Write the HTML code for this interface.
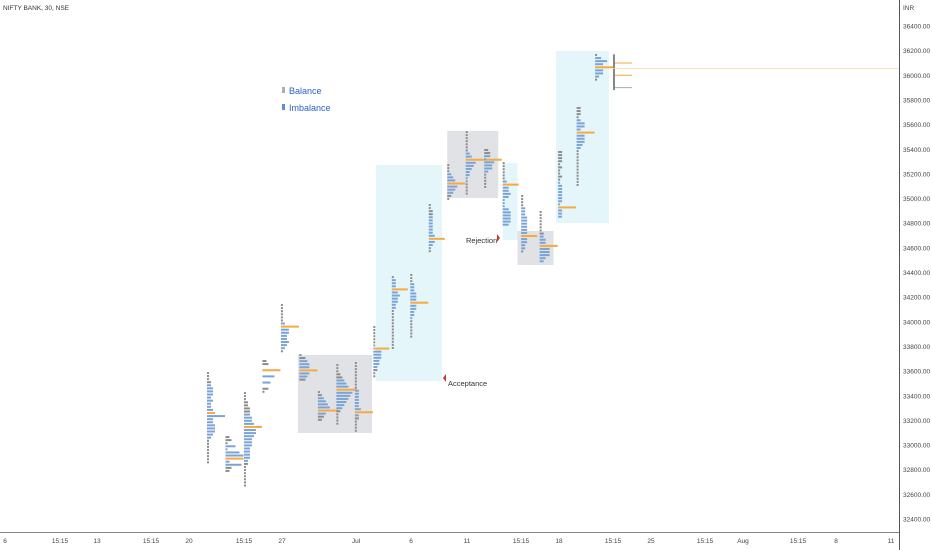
<!DOCTYPE html>
<html><head><meta charset="utf-8">
<style>
html,body{margin:0;padding:0;background:#fff;}
svg{display:block;font-family:"Liberation Sans",sans-serif;}
</style></head>
<body>
<svg id="chart" width="932" height="550" viewBox="0 0 932 550">
<text x="3" y="10" font-size="6.5" fill="#333">NIFTY BANK, 30, NSE</text>
<g id="boxes"></g>
<g id="profiles"></g>
<g id="axes"></g>
<g>
  <rect x="282" y="87" width="3" height="6" fill="#aab0bb"/>
  <text x="289" y="94" font-size="9" fill="#2962c8">Balance</text>
  <rect x="282" y="104" width="3" height="6" fill="#5b8fd6"/>
  <text x="289" y="111" font-size="9" fill="#2962c8">Imbalance</text>
</g>
<g>
  <text x="466" y="243" font-size="7.5" fill="#333">Rejection</text>
  <polygon points="497,234 497,242 500,238" fill="#c0392b"/>
</g>
<g>
  <text x="448" y="386" font-size="7.5" fill="#333">Acceptance</text>
  <polygon points="446,374 446,382 443,378" fill="#c0392b"/>
</g>
</svg>
<script>
const priceTicks=[36400,36200,36000,35800,35600,35400,35200,35000,34800,34600,34400,34200,34000,33800,33600,33400,33200,33000,32800,32600,32400];
const timeLabels=["6","15:15","13","15:15","20","15:15","27","Jul","6","11","15:15","18","15:15","25","15:15","Aug","15:15","8","11"];
const timeLabelX=[5,60,97,151,189,244,282,356,411,467,521,559,613,651,705,743,798,836,891];
const profileHigh=[33585,33065,33422,33682,34136,33731,33430,33649,33666,33958,34363,34380,34948,35272,35540,35394,35288,35021,34891,35378,35735,36165];
const profileCounts=[
[1,1,1,2,2,3,3,3,2,3,2,2,3,4,9,3,3,4,4,4,3,2,1,1,1,1,1,1,1,1],
[2,3,1,5,1,7,9,9,2,8,3,2],
[1,1,1,2,2,3,3,3,4,4,5,9,6,6,5,4,4,4,3,3,3,3,2,2,1,1,1,1,1,1,1],
[2,3,0,9,0,6,0,4,0,3,1],
[1,1,1,1,1,1,2,9,4,4,3,3,4,3,2,1],
[1,3,4,5,5,9,5,4,3],
[1,2,3,4,5,6,10,4,3,2],
[1,1,1,2,3,4,5,6,10,8,7,6,5,4,3,2,1,1,1,1],
[1,1,1,1,1,1,1,1,1,2,2,2,2,2,2,3,9,2,2,1,1,1,1],
[1,1,1,1,1,1,1,8,4,4,4,3,3,2,2,1,1],
[1,2,2,2,8,3,4,3,3,2,2,1,1,1,1,1,1,1,1,1,1,1,1,1],
[1,1,1,2,2,2,3,3,3,9,3,3,2,2,1,1,1,1,1,1,1],
[1,1,2,2,2,2,2,2,2,2,3,8,3,2,1,1],
[1,1,1,2,3,4,9,5,4,3,2,1],
[1,1,1,1,1,1,1,2,3,18,5,4,3,2,2,1,1,1,1,1,1],
[2,3,3,1,5,4,4,2,1,1,1,1,1],
[1,1,1,1,1,1,2,8,3,3,4,3,1,1,1,3,4,4,4,4,3],
[1,1,1,1,2,2,2,3,3,3,3,3,3,8,3,3,2,2,1],
[1,1,1,1,1,1,1,2,2,3,3,9,5,5,5,3,2],
[2,2,2,2,1,2,1,1,2,1,1,2,2,2,2,2,2,1,9,2,2,2],
[2,2,2,1,2,4,4,2,9,4,4,4,3,2,1,1,1,1,1,1,1,1,1,1,1,1],
[1,3,6,4,9,4,4,2,1]];
const profilePoc=[13,7,11,3,7,5,6,8,16,7,4,9,11,6,9,-1,7,13,11,18,8,4];
const vaStart=[4,3,7,2,6,2,2,5,9,6,1,3,4,3,7,2,6,4,8,10,4,1];
const vaEnd=[21,9,22,8,14,7,7,14,17,13,10,14,13,9,16,7,20,17,16,21,13,7];
const boxType=["balance","imbalance","balance","imbalance","balance","imbalance"];
const boxStart=[4.92,9.15,13.0,16.0,16.8,18.88];
const boxEnd=[8.93,12.72,15.76,16.8,18.75,21.75];
const boxHigh=[33731,35272,35548,35288,34737,36197];
const boxLow=[33098,33520,35004,34664,34461,34801];
const refLevels=[36100,36000,35900];

const NS="http://www.w3.org/2000/svg";
const Y=p=>26+(36400-p)*0.12325;
const X=i=>207+18.48*i;
const STEP=25;
function mk(tag,attrs,parent){const e=document.createElementNS(NS,tag);for(const k in attrs)e.setAttribute(k,attrs[k]);parent.appendChild(e);return e;}
const gB=document.getElementById('boxes'),gP=document.getElementById('profiles'),gA=document.getElementById('axes');

boxType.forEach((t,i)=>{
  const r=mk('rect',{x:X(boxStart[i]),y:Y(boxHigh[i]),width:X(boxEnd[i])-X(boxStart[i]),height:Y(boxLow[i])-Y(boxHigh[i]),fill:t==="balance"?"#e1e2e6":"#e5f6fb"},gB);
  
  
});

profileCounts.forEach((cs,i)=>{
  const g=mk('g',{},gP);
  
  
  const x0=X(i);
  cs.forEach((c,j)=>{
    if(!c)return;
    const p=profileHigh[i]-j*STEP;
    const y=Y(p);
    let col=(j>=vaStart[i]&&j<=vaEnd[i])?"#7ba4d6":"#8c8c8c";
    if(j===profilePoc[i])col="#f5a940";
    const r=mk('rect',{x:x0,y:y-1,width:c*2,height:2,fill:col},g);
    
    
  });
});

const refG=mk('g',{},gP);


mk('rect',{x:613,y:Y(36170),width:2,height:Y(35880)-Y(36170),fill:"#888"},refG);
mk('line',{x1:613,x2:899,y1:Y(36055),y2:Y(36055),stroke:"#f8d9a8","stroke-width":0.8},refG);
refLevels.forEach((p,k)=>{mk('line',{x1:615,x2:632,y1:Y(p),y2:Y(p),stroke:k===2?"#aaa":"#f5a940","stroke-width":1},refG);});

mk('line',{x1:899.5,x2:899.5,y1:0,y2:550,stroke:"#555","stroke-width":1},gA);
mk('line',{x1:0,x2:899,y1:532.5,y2:532.5,stroke:"#888","stroke-width":1},gA);
const cur=mk('text',{x:903,y:10,"font-size":6.5,fill:"#444"},gA);cur.textContent="INR";


priceTicks.forEach(p=>{
  const t=mk('text',{x:903,y:Y(p)+2.5,"font-size":6.5,fill:"#444"},gA);t.textContent=p.toFixed(2);
  
  
});
timeLabels.forEach((l,i)=>{
  const t=mk('text',{x:timeLabelX[i],y:543,"font-size":6.5,fill:"#444","text-anchor":"middle"},gA);t.textContent=l;
  
  
});
</script>
</body></html>
